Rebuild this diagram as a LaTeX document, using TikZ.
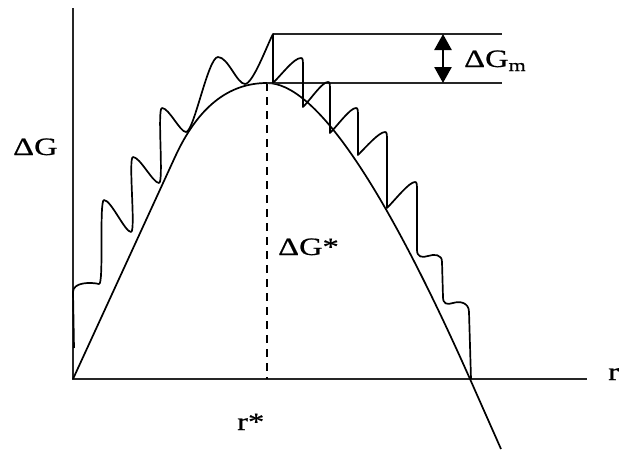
\documentclass[tikz,border=0pt]{standalone}
\usepackage{fontspec}
\usepackage{graphicx}
\setmainfont{Liberation Serif}
\newfontfamily\lblfont[FakeStretch=1.3,FakeBold=0.6]{Liberation Serif}
\usetikzlibrary{arrows.meta}
\begin{document}
\begin{tikzpicture}[x=1pt,y=-1pt,
  axis/.style={line width=1.3pt, draw=black!85},
  curve/.style={line width=1.7pt, line join=round},
  dashline/.style={line width=1.8pt, dash pattern=on 8pt off 6pt},
  dblarrow/.style={line width=2.6pt, {Triangle[width=17pt,length=16pt]}-{Triangle[width=17pt,length=16pt]}},
  lbl/.style={inner sep=0pt, anchor=base west, font=\lblfont\fontsize{25}{25}\selectfont}]
\useasboundingbox (0,0) rectangle (619,456);
% key points
\coordinate (O) at (73,379);
\coordinate (ytop) at (73,8);
\coordinate (xend) at (587,379);
\coordinate (pk) at (267,83);
\coordinate (rstar) at (267,379);
\coordinate (wtop) at (273,34);
\coordinate (lineTopEnd) at (502,34);
\coordinate (lineBotEnd) at (502,83);
\coordinate (arrTop) at (443,34);
\coordinate (arrBot) at (443,83);
% axes
\draw[axis] (ytop) -- (O) -- (xend);
% smooth free-energy curve
\draw[curve] (O) -- (175,157) .. controls (197.9,107) and (228.6,83) .. (pk)
  .. controls (314.3,83) and (382,181) .. (470,379) -- (501,449);
% dashed line at r*
\draw[dashline] (pk) -- (rstar);
% reference lines and double arrow
\draw[axis] (wtop) -- (lineTopEnd);
\draw[axis] (pk) -- (lineBotEnd);
\draw[dblarrow] (arrTop) -- (arrBot);
% wavy curve
\draw[curve] (74,348) -- (73,292)
 .. controls +(0,-10) and +(-8,-2) .. (99,284)
 .. controls +(5,1) and +(-5,0) .. (104,200)
 .. controls +(7,0) and +(-6,0) .. (131,232)
 .. controls +(5,0) and +(-5,0) .. (133,157)
 .. controls +(7,0) and +(-6,0) .. (159,183)
 .. controls +(5,0) and +(-5,0) .. (162,108)
 .. controls +(7,0) and +(-6,0) .. (186,132)
 .. controls +(8,0) and +(-10,0) .. (218,57)
 .. controls +(10,0) and +(-8,0) .. (245,84)
 .. controls +(8,0) and +(-5,9) .. (wtop)
 -- (273,83)
 .. controls +(10,-10) and +(-7,0) .. (301,58)
 .. controls +(2,0) and +(0,-8) .. (303,68)
 -- (303,107)
 .. controls +(8,-8) and +(-6,0) .. (328,82)
 .. controls +(2,0) and +(0,-8) .. (330,92)
 -- (330,133)
 .. controls +(8,-8) and +(-6,0) .. (356,108)
 .. controls +(2,0) and +(0,-8) .. (358,118)
 -- (358,155)
 .. controls +(8,-8) and +(-6,0) .. (385,132)
 .. controls +(2,0) and +(0,-8) .. (387,142)
 -- (387,208)
 .. controls +(8,-8) and +(-6,0) .. (415,182)
 .. controls +(2,0) and +(0,-8) .. (417,192)
 -- (417,250)
 .. controls +(0,7) and +(-6,2) .. (428,256)
 .. controls +(6,-2) and +(0,-8) .. (442,262)
 -- (443,297)
 .. controls +(0,7) and +(-6,2) .. (453,303)
 .. controls +(6,-2) and +(0,-10) .. (469,312)
 -- (471,379);
% labels
\node[lbl] (dG) at (13,155) {ΔG};
\node[lbl] (rlab) at (608,380) {r};
\node[lbl] (rs) at (237,430) {r*};
\node[lbl] (dGs) at (278,255) {ΔG*};
\node[lbl] (dGm) at (464,67) {ΔG\raisebox{-4pt}{\fontsize{17}{17}\selectfont m}};
\end{tikzpicture}
\end{document}
